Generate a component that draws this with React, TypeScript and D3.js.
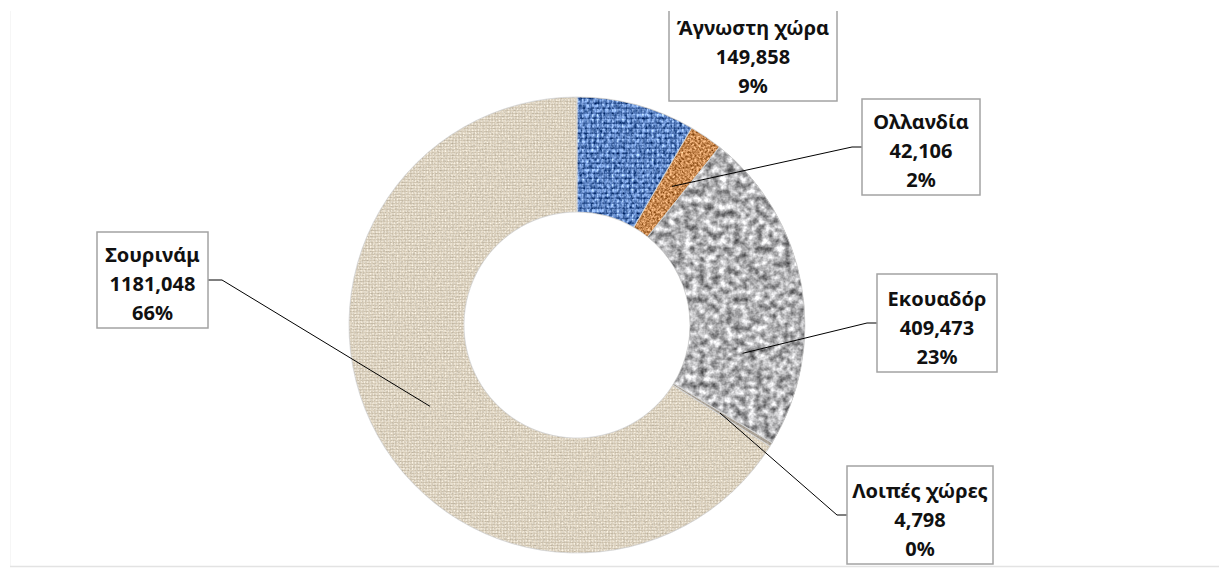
import React from "react";
import * as d3 from "d3";

const countries = ["Άγνωστη χώρα", "Ολλανδία", "Εκουαδόρ", "Λοιπές χώρες", "Σουρινάμ"];
const values = [149858, 42106, 409473, 4798, 1181048];
const valueLabels = ["149,858", "42,106", "409,473", "4,798", "1181,048"];
const percentLabels = ["9%", "2%", "23%", "0%", "66%"];
const textures = ["blue", "orange", "gray", "other", "beige"];

// label layout (box, leader anchor side, position inside slice 0..1)
const labelBoxes = [
  { x: 669, y: -4, w: 168, h: 105, side: "none", t: 0.5 },
  { x: 862, y: 99, w: 118, h: 96, side: "left", t: 0.5 },
  { x: 877, y: 274, w: 120, h: 98, side: "left", t: 0.74 },
  { x: 847, y: 466, w: 146, h: 98, side: "left", t: 0.5 },
  { x: 97, y: 232, w: 111, h: 96, side: "right", t: 0.5 },
];

const W = 1219;
const H = 569;
const cx = 577;
const cy = 325;
const rOuter = 228;
const rInner = 113;
const rLeader = 168;

export default function App() {
  const data = countries.map((c, i) => ({ name: c, value: values[i], i }));
  const pie = d3.pie<any>().sort(null).value((d: any) => d.value);
  const arcs = pie(data);
  const arc = d3.arc<any>().innerRadius(rInner).outerRadius(rOuter);
  const pt = (a: number, r: number) => [cx + r * Math.sin(a), cy - r * Math.cos(a)];
  const font = "'Noto Sans', 'DejaVu Sans', sans-serif";

  return (
    <svg width={W} height={H} style={{ position: "absolute", left: 0, top: 0, background: "#fff" }}>
      <defs>
        <clipPath id="plot">
          <rect x={10} y={11} width={W} height={H} />
        </clipPath>
        <pattern id="p-blue" width={5} height={5} patternUnits="userSpaceOnUse">
          <rect width={5} height={5} fill="#5b83c4" />
          <rect x={0} y={0} width={1.6} height={5} fill="#8cb0e8" />
          <rect x={0} y={2.5} width={5} height={1.4} fill="#3a5f9f" />
        </pattern>
        <pattern id="p-beige" width={3} height={3} patternUnits="userSpaceOnUse">
          <rect width={3} height={3} fill="#ddd3c1" />
          <rect x={0} y={0} width={1} height={3} fill="#e9e2d4" />
          <rect x={0} y={1} width={3} height={0.8} fill="#cdc2ad" />
        </pattern>
        <pattern id="p-orange" width={4} height={4} patternUnits="userSpaceOnUse">
          <rect width={4} height={4} fill="#c98a52" />
        </pattern>
        <pattern id="p-gray" width={4} height={4} patternUnits="userSpaceOnUse">
          <rect width={4} height={4} fill="#b2b2b4" />
        </pattern>
        <pattern id="p-other" width={4} height={4} patternUnits="userSpaceOnUse">
          <rect width={4} height={4} fill="#a9a196" />
        </pattern>
        {[
          { id: "blue", f: "0.35 0.25", k: 0.9, seed: 2 },
          { id: "beige", f: "0.6", k: 0.25, seed: 5 },
          { id: "orange", f: "0.45", k: 0.9, seed: 7 },
          { id: "gray", f: "0.14", k: 1.1, seed: 11 },
          { id: "other", f: "0.5", k: 0.2, seed: 1 },
        ].map((t) => (
          <filter key={t.id} id={"f-" + t.id} x="-5%" y="-5%" width="110%" height="110%" colorInterpolationFilters="sRGB">
            <feTurbulence type="fractalNoise" baseFrequency={t.f} numOctaves={3} seed={t.seed} result="n" />
            <feColorMatrix in="n" type="matrix" values="1 0 0 0 0  1 0 0 0 0  1 0 0 0 0  0 0 0 0 1" result="g" />
            <feComposite in="SourceGraphic" in2="g" operator="arithmetic" k1={0} k2={1} k3={t.k} k4={-t.k / 2} result="c" />
            <feComposite in="c" in2="SourceGraphic" operator="in" />
          </filter>
        ))}
      </defs>

      <g clipPath="url(#plot)">
        <line x1={9.5} y1={11} x2={9.5} y2={566} stroke="#d9d9d9" strokeWidth={1.5} />
        <line x1={9.5} y1={566.5} x2={W} y2={566.5} stroke="#e3e3e3" strokeWidth={1.5} />

        <g transform={`translate(${cx},${cy})`}>
          {arcs.map((a: any, i: number) => (
            <path
              key={"s" + i}
              d={arc(a) as string}
              fill={`url(#p-${textures[i]})`}
              filter={`url(#f-${textures[i]})`}
            />
          ))}
          {arcs.map((a: any, i: number) => (
            <path key={"e" + i} d={arc(a) as string} fill="none" stroke="#d6d6d6" strokeWidth={0.8} />
          ))}
        </g>

        {arcs.map((a: any, i: number) => {
          const b = labelBoxes[i];
          if (b.side === "none") return null;
          const ang = a.startAngle + (a.endAngle - a.startAngle) * b.t;
          const [ex, ey] = pt(ang, rLeader);
          const ay = b.y + b.h / 2;
          const ax = b.side === "left" ? b.x : b.x + b.w;
          const hx = b.side === "left" ? ax - 10 : ax + 14;
          return (
            <polyline
              key={"l" + i}
              points={`${ax},${ay} ${hx},${ay} ${ex},${ey}`}
              fill="none"
              stroke="#000"
              strokeWidth={1}
            />
          );
        })}

        {labelBoxes.map((b, i) => (
          <g key={"b" + i}>
            <rect x={b.x} y={b.y} width={b.w} height={b.h} fill="#fff" stroke="#a3a3a3" strokeWidth={1.5} />
            {[countries[i], valueLabels[i], percentLabels[i]].map((t, j) => (
              <text
                key={j}
                x={b.x + b.w / 2}
                y={b.y + b.h - 8 - (2 - j) * 29}
                textAnchor="middle"
                fontFamily={font}
                fontWeight="bold"
                fontSize={20}
                fill="#111"
              >
                {t}
              </text>
            ))}
          </g>
        ))}
      </g>
    </svg>
  );
}
